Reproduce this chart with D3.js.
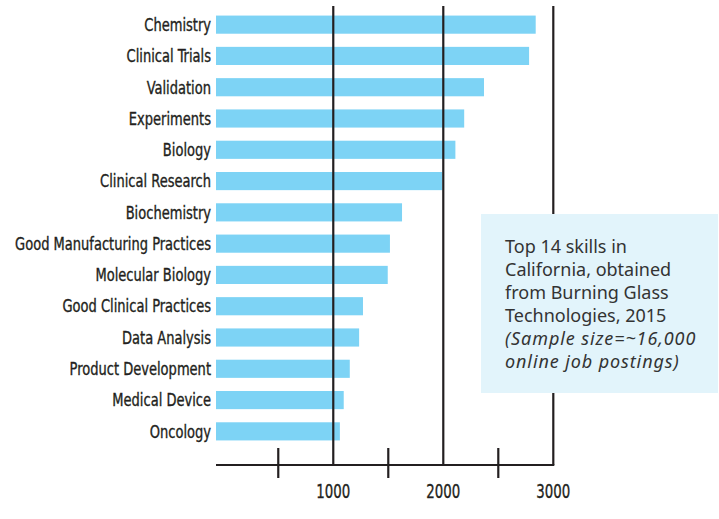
<!DOCTYPE html>
<html>
<head>
<meta charset="utf-8">
<script src="https://cdn.jsdelivr.net/npm/d3@7"></script>
<style>
  body { margin: 0; background: #fff; }
  .cat { font-family: "DejaVu Sans", sans-serif; font-stretch: condensed; font-size: 17.5px; fill: #231f20; stroke: #231f20; stroke-width: 0.35px; }
  .tick-lbl { font-family: "DejaVu Sans", sans-serif; font-stretch: condensed; font-size: 20px; fill: #231f20; stroke: #231f20; stroke-width: 0.35px; }
  .note { font-family: "Noto Sans", "DejaVu Sans", sans-serif; font-size: 18px; fill: #333; }
</style>
</head>
<body>
<script>
// skills, top to bottom
const skills = [
  'Chemistry', 'Clinical Trials', 'Validation', 'Experiments', 'Biology',
  'Clinical Research', 'Biochemistry', 'Good Manufacturing Practices',
  'Molecular Biology', 'Good Clinical Practices', 'Data Analysis',
  'Product Development', 'Medical Device', 'Oncology'
];
// job postings
const postings = [2840, 2780, 2370, 2190, 2110, 1990, 1625, 1515, 1495, 1270, 1235, 1150, 1095, 1060];

const smallTicks = [500, 1500, 2500];
const bigTicks = [1000, 2000, 3000];

const noteLines = [
  'Top 14 skills in',
  'California, obtained',
  'from Burning Glass',
  'Technologies, 2015'
];
const noteItalic = [
  '(Sample size=~16,000',
  'online job postings)'
];

let width = 719,
    height = 519;

let svg = d3.select('body')
  .append('svg')
  .attr('width', width)
  .attr('height', height);

// x starts a little below zero, the bars begin at the axis start
let x = d3.scaleLinear()
  .domain([-66, 3000])
  .range([216, 553.3]);

let y = d3.scaleBand()
  .domain(skills)
  .range([9, 447])
  .paddingInner(0.42)
  .paddingOuter(0.21);

let axisY = 465;
let dark = '#231f20';

// bars
svg.selectAll('rect.bar')
  .data(skills)
  .enter()
  .append('rect')
  .attr('class', 'bar')
  .attr('x', x.range()[0])
  .attr('y', d => y(d))
  .attr('width', (d, i) => x(postings[i]) - x.range()[0])
  .attr('height', y.bandwidth())
  .attr('fill', '#7dd3f5');

// vertical lines at 1000s, drawn over bars
svg.selectAll('line.grid')
  .data(bigTicks)
  .enter()
  .append('line')
  .attr('class', 'grid')
  .attr('x1', d => x(d))
  .attr('x2', d => x(d))
  .attr('y1', 6)
  .attr('y2', axisY)
  .attr('stroke', dark)
  .attr('stroke-width', 2.2);

// axis line
svg.append('line')
  .attr('x1', x.range()[0])
  .attr('x2', x(3000) + 1)
  .attr('y1', axisY)
  .attr('y2', axisY)
  .attr('stroke', dark)
  .attr('stroke-width', 2.2);

// small ticks crossing the axis
svg.selectAll('line.tk')
  .data(smallTicks)
  .enter()
  .append('line')
  .attr('class', 'tk')
  .attr('x1', d => x(d))
  .attr('x2', d => x(d))
  .attr('y1', axisY - 17)
  .attr('y2', axisY + 13)
  .attr('stroke', dark)
  .attr('stroke-width', 2.2);

// squeeze text horizontally around its anchor point
function squeeze(sel, k) {
  sel.each(function() {
    let t = d3.select(this);
    let ax = +t.attr('x'), ay = +t.attr('y');
    t.attr('transform', 'translate(' + ax + ',' + ay + ') scale(' + k + ',1) translate(' + (-ax) + ',' + (-ay) + ')');
  });
}

// tick labels
let tl = svg.selectAll('text.tick-lbl')
  .data(bigTicks)
  .enter()
  .append('text')
  .attr('class', 'tick-lbl')
  .attr('x', d => x(d))
  .attr('y', 498)
  .attr('text-anchor', 'middle')
  .text(d => d);
let tw = tl.node().getComputedTextLength();
squeeze(tl, 34 / tw);

// category labels
let cl = svg.selectAll('text.cat')
  .data(skills)
  .enter()
  .append('text')
  .attr('class', 'cat')
  .attr('x', 211)
  .attr('y', d => y(d) + y.bandwidth() / 2)
  .attr('dy', '0.36em')
  .attr('text-anchor', 'end')
  .text(d => d);
let longest = d3.max(cl.nodes(), n => n.getComputedTextLength());
squeeze(cl, 196 / longest);

// note box
svg.append('rect')
  .attr('x', 481)
  .attr('y', 214)
  .attr('width', 237)
  .attr('height', 179)
  .attr('fill', '#e2f4fb');

let note = svg.append('text')
  .attr('class', 'note')
  .attr('x', 505)
  .attr('y', 253);

noteLines.concat(noteItalic).forEach(function(t, i) {
  let it = i >= noteLines.length;
  note.append('tspan')
    .attr('x', 505)
    .attr('dy', i === 0 ? 0 : 23)
    .style('font-style', it ? 'italic' : 'normal')
    .style('letter-spacing', it ? '0.9px' : '0px')
    .text(t);
});
</script>
</body>
</html>
